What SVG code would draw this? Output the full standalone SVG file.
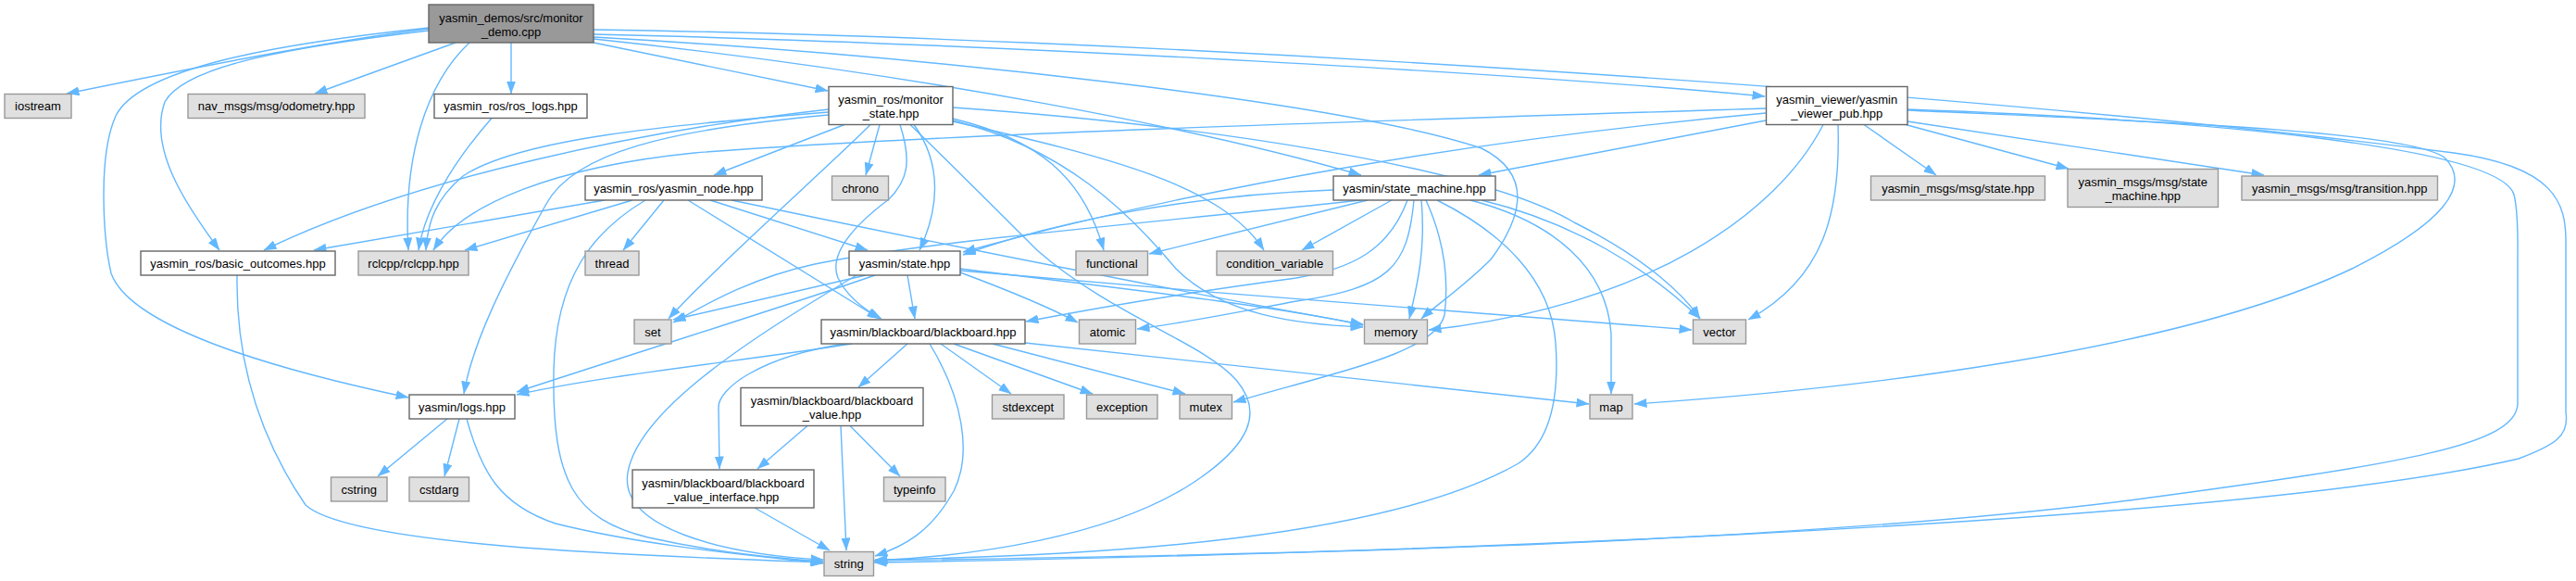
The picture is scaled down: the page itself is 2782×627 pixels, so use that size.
<svg xmlns="http://www.w3.org/2000/svg" width="2782" height="627" viewBox="0 0 2782 627">
<style>
.e{fill:none;stroke:#63b8ff;stroke-width:1.4;marker-end:url(#ah)}
.n rect{stroke-width:1.4}
.w{fill:#ffffff;stroke:#666666}
.g{fill:#e0e0e0;stroke:#999999}
.m{fill:#999999;stroke:#666666}
text{font-family:"Liberation Sans",Arial,sans-serif;font-size:13px;fill:#000;text-anchor:middle}
</style>
<defs>
<marker id="ah" markerWidth="14" markerHeight="10" refX="13.5" refY="5" orient="auto" markerUnits="userSpaceOnUse">
<path d="M0,0 L14,5 L0,10 z" fill="#63b8ff"/>
</marker>
</defs>
<rect width="2782" height="627" fill="#ffffff"/>
<g id="connectors">
<path class="e" d="M463,31 C350,45 200,75 72,101"/>
<path class="e" d="M492,46 L340,101"/>
<path class="e" d="M507,46 C460,90 435,170 441,270"/>
<path class="e" d="M552,46 L552,101"/>
<path class="e" d="M641,46 L894,98"/>
<path class="e" d="M463,33 C320,50 200,70 178,110 C160,160 200,220 237,270"/>
<path class="e" d="M463,30 C290,48 150,75 125,125 C105,170 112,260 120,295 C140,350 280,395 441,429"/>
<path class="e" d="M641,42 C1000,80 1300,140 1470,189"/>
<path class="e" d="M641,37 C1000,45 1600,75 1906,104"/>
<path class="e" d="M641,40 C1000,60 1450,110 1600,160 C1660,190 1640,240 1610,280 C1580,310 1550,330 1535,344"/>
<path class="e" d="M641,32 C1200,40 2100,95 2650,165 C2760,180 2771,220 2771,260 L2771,445 C2775,470 2760,480 2720,495 C2400,570 1400,600 944,607"/>
<path class="e" d="M912,134.5 L771,189"/>
<path class="e" d="M950,134.5 L935,189"/>
<path class="e" d="M895,118 C700,140 450,190 285,270"/>
<path class="e" d="M895,121 C720,135 560,150 500,190 C470,215 462,240 460,270"/>
<path class="e" d="M895,124 C720,140 620,165 590,220 C545,300 510,370 501,425"/>
<path class="e" d="M940,134.5 C900,175 770,290 722,344"/>
<path class="e" d="M972,134.5 C985,175 980,195 960,215 C920,245 895,275 905,300 C915,320 935,335 952,344"/>
<path class="e" d="M987,134.5 C1020,180 1012,230 993,270"/>
<path class="e" d="M1029,128 C1120,150 1170,190 1192,270"/>
<path class="e" d="M1029,131 C1200,170 1320,200 1365,270"/>
<path class="e" d="M1029,130 C1150,160 1220,230 1270,290 C1320,340 1400,350 1472,353"/>
<path class="e" d="M1029,116 C1300,135 1600,180 1700,240 C1780,280 1820,320 1836,344"/>
<path class="e" d="M983,134.5 C1030,180 1070,220 1120,270 C1200,340 1300,370 1335,410 C1365,445 1350,480 1290,520 C1200,580 1050,600 945,605"/>
<path class="e" d="M1907,117 C1500,130 1000,145 750,165 C600,180 500,220 468,270"/>
<path class="e" d="M1907,122 C1600,150 1300,200 1040,272"/>
<path class="e" d="M1907,130 L1597,189"/>
<path class="e" d="M1969,134.5 C1920,230 1780,330 1543,356"/>
<path class="e" d="M1985,134.5 C1988,230 1970,300 1888,345"/>
<path class="e" d="M2013,134.5 L2091,189"/>
<path class="e" d="M2058,134.5 L2234,182"/>
<path class="e" d="M2060,131 L2445,189"/>
<path class="e" d="M2060,119 C2300,130 2600,140 2640,170 C2670,200 2640,240 2540,290 C2350,380 2000,420 1765,436"/>
<path class="e" d="M2060,118 C2400,130 2700,160 2715,210 C2720,230 2719,260 2719,280 L2719,435 C2719,480 2600,500 2300,540 C1900,590 1300,600 944,605"/>
<path class="e" d="M1440,205 C1300,210 1150,235 1040,275"/>
<path class="e" d="M1470,216 C1250,240 1000,260 880,285 C810,300 760,330 727,348"/>
<path class="e" d="M1477,216 L1241,274"/>
<path class="e" d="M1503,216 L1406,270"/>
<path class="e" d="M1520,216 C1500,270 1460,290 1400,300 C1250,320 1170,335 1108,347"/>
<path class="e" d="M1527,216 C1520,290 1500,310 1400,325 C1320,340 1270,350 1228,355"/>
<path class="e" d="M1535,216 C1540,270 1530,310 1522,344"/>
<path class="e" d="M1540,216 C1560,260 1565,300 1560,340 C1550,380 1450,400 1332,434"/>
<path class="e" d="M1600,216 C1700,240 1780,290 1836,344"/>
<path class="e" d="M1588,216 C1680,240 1735,290 1740,360 L1740,425"/>
<path class="e" d="M1552,216 C1620,250 1675,300 1680,370 C1685,440 1670,480 1640,500 C1500,580 1200,600 945,604"/>
<path class="e" d="M653,216 L339,270"/>
<path class="e" d="M683,216 L502,270"/>
<path class="e" d="M697,216 C640,250 600,300 598,400 C596,520 620,560 700,580 C780,598 850,603 889,606"/>
<path class="e" d="M717,216 L673,270"/>
<path class="e" d="M743,216 L950,344"/>
<path class="e" d="M767,216 L937,270"/>
<path class="e" d="M790,216 C1000,260 1300,320 1472,350"/>
<path class="e" d="M935,297 L727,345"/>
<path class="e" d="M945,297 C850,330 720,370 558,423"/>
<path class="e" d="M925,297 C820,360 690,440 678,510 C668,570 780,598 889,604"/>
<path class="e" d="M980,297 L988,344"/>
<path class="e" d="M1037,294 C1080,310 1130,330 1164,348"/>
<path class="e" d="M1037,290 C1200,310 1380,330 1472,351"/>
<path class="e" d="M1037,292 C1300,315 1600,340 1827,356"/>
<path class="e" d="M920,371 C800,390 650,405 558,426"/>
<path class="e" d="M980,371 L927,418"/>
<path class="e" d="M913,371 C820,385 775,420 776,440 L777,506"/>
<path class="e" d="M1004,371 C1040,430 1050,490 1030,530 C1005,575 975,590 945,600"/>
<path class="e" d="M1016,371 L1092,425"/>
<path class="e" d="M1030,371 L1180,425"/>
<path class="e" d="M1072,371 L1280,425"/>
<path class="e" d="M1107,370 L1716,436"/>
<path class="e" d="M872,459.5 L818,506"/>
<path class="e" d="M908,459.5 L914,594"/>
<path class="e" d="M918,459.5 L972,514"/>
<path class="e" d="M815,548 L896,594"/>
<path class="e" d="M483,452 L408,514"/>
<path class="e" d="M496,452 L480,514"/>
<path class="e" d="M504,452 C520,510 540,545 600,565 C700,590 820,600 889,608"/>
<path class="e" d="M256,297 C255,360 265,450 330,545 C380,590 700,600 889,607"/>
<path class="e" d="M531,127.5 C485,180 458,230 452,270"/>
</g>
<g id="n_main" class="n"><rect class="m" x="463" y="5" width="178" height="41"/><text x="552" y="23.5">yasmin_demos/src/monitor</text><text x="552" y="38.5">_demo.cpp</text></g>
<g id="n_iostream" class="n"><rect class="g" x="5" y="101.5" width="72" height="26"/><text x="41" y="119">iostream</text></g>
<g id="n_nav" class="n"><rect class="g" x="203" y="101.5" width="191" height="26"/><text x="298.5" y="119">nav_msgs/msg/odometry.hpp</text></g>
<g id="n_roslogs" class="n"><rect class="w" x="469" y="101.5" width="165" height="26"/><text x="551.5" y="119">yasmin_ros/ros_logs.hpp</text></g>
<g id="n_monitor" class="n"><rect class="w" x="895" y="93.5" width="134" height="41"/><text x="962" y="112">yasmin_ros/monitor</text><text x="962" y="127">_state.hpp</text></g>
<g id="n_viewer" class="n"><rect class="w" x="1907.5" y="93.5" width="152.5" height="41"/><text x="1983.75" y="112">yasmin_viewer/yasmin</text><text x="1983.75" y="127">_viewer_pub.hpp</text></g>
<g id="n_node" class="n"><rect class="w" x="632" y="190" width="191" height="26"/><text x="727.5" y="207.5">yasmin_ros/yasmin_node.hpp</text></g>
<g id="n_chrono" class="n"><rect class="g" x="898.5" y="190" width="61" height="26"/><text x="929" y="207.5">chrono</text></g>
<g id="n_sm" class="n"><rect class="w" x="1440" y="190" width="175" height="26"/><text x="1527.5" y="207.5">yasmin/state_machine.hpp</text></g>
<g id="n_msgstate" class="n"><rect class="g" x="2020.5" y="190" width="188" height="26"/><text x="2114.5" y="207.5">yasmin_msgs/msg/state.hpp</text></g>
<g id="n_msgsm" class="n"><rect class="g" x="2233" y="182.5" width="162.5" height="41"/><text x="2314.25" y="201">yasmin_msgs/msg/state</text><text x="2314.25" y="216">_machine.hpp</text></g>
<g id="n_msgtrans" class="n"><rect class="g" x="2421" y="190" width="211.5" height="26"/><text x="2526.75" y="207.5">yasmin_msgs/msg/transition.hpp</text></g>
<g id="n_basic" class="n"><rect class="w" x="152" y="271" width="210" height="26"/><text x="257" y="288.5">yasmin_ros/basic_outcomes.hpp</text></g>
<g id="n_rclcpp" class="n"><rect class="g" x="387" y="271" width="119" height="26"/><text x="446.5" y="288.5">rclcpp/rclcpp.hpp</text></g>
<g id="n_thread" class="n"><rect class="g" x="632" y="271" width="58" height="26"/><text x="661" y="288.5">thread</text></g>
<g id="n_state" class="n"><rect class="w" x="917" y="271" width="120" height="26"/><text x="977" y="288.5">yasmin/state.hpp</text></g>
<g id="n_functional" class="n"><rect class="g" x="1162" y="271" width="77.5" height="26"/><text x="1200.75" y="288.5">functional</text></g>
<g id="n_condvar" class="n"><rect class="g" x="1314" y="271" width="125.5" height="26"/><text x="1376.75" y="288.5">condition_variable</text></g>
<g id="n_set" class="n"><rect class="g" x="685" y="345" width="40" height="26"/><text x="705" y="362.5">set</text></g>
<g id="n_bb" class="n"><rect class="w" x="887" y="345" width="220" height="26"/><text x="997" y="362.5">yasmin/blackboard/blackboard.hpp</text></g>
<g id="n_atomic" class="n"><rect class="g" x="1165.5" y="345" width="61" height="26"/><text x="1196" y="362.5">atomic</text></g>
<g id="n_memory" class="n"><rect class="g" x="1473.5" y="345" width="68" height="26"/><text x="1507.5" y="362.5">memory</text></g>
<g id="n_vector" class="n"><rect class="g" x="1828.5" y="345" width="57" height="26"/><text x="1857" y="362.5">vector</text></g>
<g id="n_logs" class="n"><rect class="w" x="442" y="426" width="114" height="26"/><text x="499" y="443.5">yasmin/logs.hpp</text></g>
<g id="n_bbvalue" class="n"><rect class="w" x="800" y="418.5" width="197" height="41"/><text x="898.5" y="437">yasmin/blackboard/blackboard</text><text x="898.5" y="452">_value.hpp</text></g>
<g id="n_stdexcept" class="n"><rect class="g" x="1071.5" y="426" width="77.5" height="26"/><text x="1110.25" y="443.5">stdexcept</text></g>
<g id="n_exception" class="n"><rect class="g" x="1173.5" y="426" width="76.5" height="26"/><text x="1211.75" y="443.5">exception</text></g>
<g id="n_mutex" class="n"><rect class="g" x="1274" y="426" width="56.5" height="26"/><text x="1302.25" y="443.5">mutex</text></g>
<g id="n_map" class="n"><rect class="g" x="1717" y="426" width="46" height="26"/><text x="1740" y="443.5">map</text></g>
<g id="n_cstring" class="n"><rect class="g" x="357.5" y="515" width="60.5" height="26"/><text x="387.75" y="532.5">cstring</text></g>
<g id="n_cstdarg" class="n"><rect class="g" x="442" y="515" width="64.5" height="26"/><text x="474.25" y="532.5">cstdarg</text></g>
<g id="n_bbvi" class="n"><rect class="w" x="683" y="507" width="196" height="41"/><text x="781" y="525.5">yasmin/blackboard/blackboard</text><text x="781" y="540.5">_value_interface.hpp</text></g>
<g id="n_typeinfo" class="n"><rect class="g" x="954.5" y="515" width="66.5" height="26"/><text x="987.75" y="532.5">typeinfo</text></g>
<g id="n_string" class="n"><rect class="g" x="890" y="595.5" width="53.5" height="26"/><text x="916.75" y="613">string</text></g>
</svg>
